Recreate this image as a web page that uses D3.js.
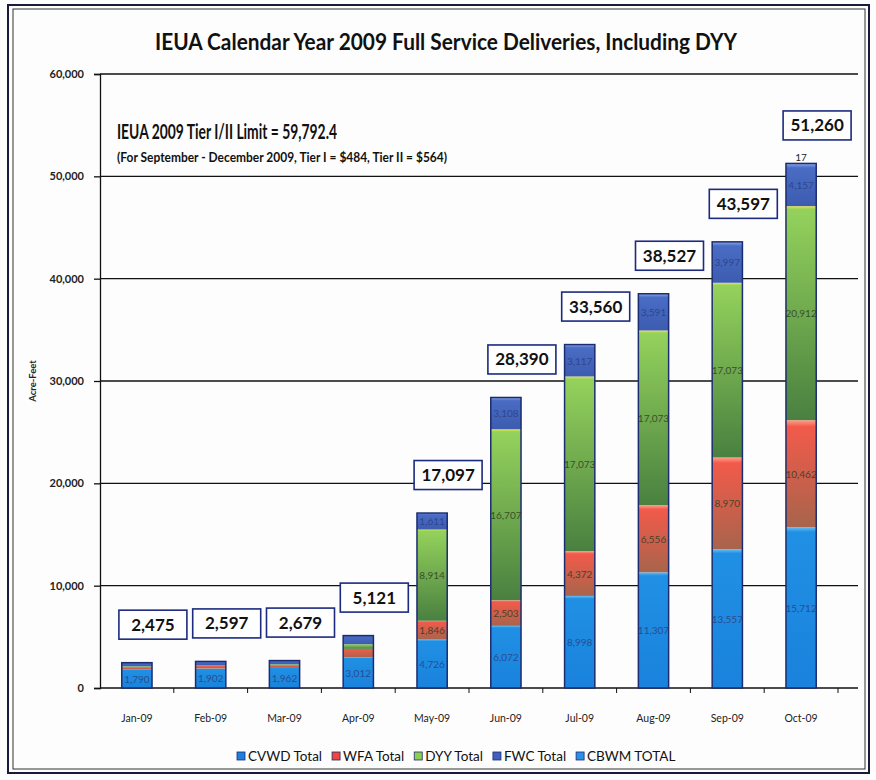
<!DOCTYPE html>
<html>
<head>
<meta charset="utf-8">
<script src="https://cdn.jsdelivr.net/npm/d3@7"></script>
<style>
  html, body { margin: 0; padding: 0; background: #fff; }
  svg { display: block; }
  text { font-family: Lato, "Open Sans", sans-serif; }
</style>
</head>
<body>
<svg id="chart" width="876" height="780"></svg>
<script>
// ---- data ----
const months = ["Jan-09","Feb-09","Mar-09","Apr-09","May-09","Jun-09","Jul-09","Aug-09","Sep-09","Oct-09"];
const cvwd = [1790, 1902, 1962, 3012, 4726, 6072, 8998, 11307, 13557, 15712];
const wfa  = [236, 244, 259, 812, 1846, 2503, 4372, 6556, 8970, 10462];
const dyy  = [95, 95, 95, 453, 8914, 16707, 17073, 17073, 17073, 20912];
const fwc  = [354, 356, 363, 844, 1611, 3108, 3117, 3591, 3997, 4157];
const cbwm = [0, 0, 0, 0, 0, 0, 0, 0, 0, 17];
const totals = [2475, 2597, 2679, 5121, 17097, 28390, 33560, 38527, 43597, 51260];
const seriesNames = ["CVWD Total", "WFA Total", "DYY Total", "FWC Total", "CBWM TOTAL"];
const yTicks = [0, 10000, 20000, 30000, 40000, 50000, 60000];
const titleText = "IEUA Calendar Year 2009 Full Service Deliveries, Including DYY";
const noteLine1 = "IEUA 2009 Tier I/II Limit = 59,792.4";
const noteLine2 = "(For September - December 2009, Tier I = $484, Tier II = $564)";
const yAxisTitle = "Acre-Feet";

// ---- build ----
const svg = d3.select("#chart");
const keys = ["cvwd","wfa","dyy","fwc","cbwm"];
const valuesByKey = {cvwd, wfa, dyy, fwc, cbwm};
const table = months.map((m, i) => {
  const row = {month: m, total: totals[i]};
  keys.forEach(k => row[k] = valuesByKey[k][i]);
  return row;
});
const stacked = d3.stack().keys(keys)(table);

const plot = {left: 100, right: 838, top: 74, bottom: 688, gridRight: 858};
const x = d3.scaleBand().domain(months).range([plot.left, plot.right]).paddingInner(0.59).paddingOuter(0.295);
const y = d3.scaleLinear().domain([0, 60000]).range([plot.bottom, plot.top]);

// gradients
const defs = svg.append("defs");
const gradSpec = {
  cvwd: [["0%", "#6cbcf2"], ["3%", "#2090e4"], ["100%", "#1a82dc"]],
  wfa:  [["0%", "#ffa08a"], ["6%", "#f25a4a"], ["100%", "#a8644c"]],
  dyy:  [["0%", "#e8e448"], ["1.5%", "#94d25c"], ["100%", "#4a8040"]],
  fwc:  [["0%", "#8aa8e8"], ["10%", "#4a6cc4"], ["100%", "#3c5cb0"]],
  cbwm: [["0%", "#9fd0f5"], ["100%", "#3a98e6"]]
};
keys.forEach(k => {
  const g = defs.append("linearGradient").attr("id", "g-" + k)
    .attr("x1", 0).attr("y1", 0).attr("x2", 0).attr("y2", 1);
  gradSpec[k].forEach(([o, c]) => g.append("stop").attr("offset", o).attr("stop-color", c));
});
const legendColor = {cvwd: "#1f7fe0", wfa: "#f0443c", dyy: "#8ccf50", fwc: "#4060c0", cbwm: "#2e8fe8"};

// background & frame
svg.append("rect").attr("x", 0).attr("y", 0).attr("width", 876).attr("height", 780).attr("fill", "#fdfdfd");
svg.append("rect").attr("x", 8).attr("y", 5).attr("width", 861).attr("height", 768)
  .attr("fill", "none").attr("stroke", "#1a1a3a").attr("stroke-width", 2);
svg.append("rect").attr("x", 13).attr("y", 9).attr("width", 852).attr("height", 760)
  .attr("fill", "none").attr("stroke", "#333").attr("stroke-width", 1);

// gridlines
svg.append("g").selectAll("line").data(yTicks.filter(d => d > 0)).join("line")
  .attr("x1", plot.left).attr("x2", plot.gridRight)
  .attr("y1", d => y(d)).attr("y2", d => y(d))
  .attr("stroke", "#111").attr("stroke-width", 1.3);

// y axis
const yAxis = svg.append("g").attr("transform", `translate(${plot.left},0)`)
  .call(d3.axisLeft(y).tickValues(yTicks).tickFormat(d3.format(",")).tickSizeOuter(0).tickSize(6).tickPadding(10));
yAxis.select(".domain").attr("stroke", "#111").attr("stroke-width", 1.3);
yAxis.selectAll(".tick line").attr("stroke", "#111").attr("stroke-width", 1.3);
yAxis.selectAll("text").attr("font-size", 11).attr("font-weight", "bold").attr("fill", "#222");

// x axis
const xAxisG = svg.append("g").attr("transform", `translate(0,${plot.bottom})`);
xAxisG.append("line").attr("x1", plot.left).attr("x2", plot.gridRight).attr("y1", 0).attr("y2", 0)
  .attr("stroke", "#111").attr("stroke-width", 1.5);
const boundaries = months.map(m => x(m) - x.step() * x.paddingInner() / 2).slice(1).concat([plot.right]);
xAxisG.selectAll(".tk").data(boundaries).join("line").attr("class", "tk")
  .attr("x1", d => d).attr("x2", d => d).attr("y1", 0).attr("y2", 5)
  .attr("stroke", "#111").attr("stroke-width", 1);
xAxisG.selectAll(".lbl").data(months).join("text").attr("class", "lbl")
  .attr("x", d => x(d) + x.bandwidth() / 2).attr("y", 34)
  .attr("text-anchor", "middle").attr("font-size", 10.5).attr("fill", "#222")
  .text(d => d);

// bars
const barG = svg.append("g");
stacked.forEach(layer => {
  const k = layer.key;
  barG.append("g").selectAll("rect").data(layer).join("rect")
    .attr("x", d => x(d.data.month))
    .attr("width", x.bandwidth())
    .attr("y", d => y(d[1]))
    .attr("height", d => Math.max(0, y(d[0]) - y(d[1])))
    .attr("fill", `url(#g-${k})`);
});
barG.append("g").selectAll("rect").data(table).join("rect")
  .attr("x", d => x(d.month)).attr("width", x.bandwidth())
  .attr("y", d => y(d.total)).attr("height", d => y(0) - y(d.total))
  .attr("fill", "none").attr("stroke", "#1c2c70").attr("stroke-width", 1.5);

// segment labels
const fmt = d3.format(",");
const segLabels = svg.append("g");
stacked.forEach(layer => {
  segLabels.append("g").selectAll("text").data(layer.filter(d => (y(d[0]) - y(d[1])) > 12)).join("text")
    .attr("x", d => x(d.data.month) + x.bandwidth() / 2)
    .attr("y", d => (y(d[0]) + y(d[1])) / 2 + 4)
    .attr("text-anchor", "middle").attr("font-size", 10)
    .attr("fill", layer.key === "fwc" || layer.key === "cvwd" ? "#2a3f80" : "#2a3a22")
    .attr("opacity", 0.8)
    .text(d => fmt(d[1] - d[0]));
});
const cbLayer = stacked[keys.indexOf("cbwm")];
segLabels.append("g").selectAll("text").data(cbLayer.filter(d => d[1] - d[0] > 0)).join("text")
  .attr("x", d => x(d.data.month) + x.bandwidth() / 2)
  .attr("y", d => y(d[1]) - 2)
  .attr("text-anchor", "middle").attr("font-size", 10).attr("fill", "#222")
  .text(d => fmt(d[1] - d[0]));

// total boxes
const boxW = 68, boxH = 29;
const boxes = svg.append("g").selectAll("g").data(table).join("g")
  .attr("transform", d => `translate(${x(d.month) + x.bandwidth() / 2 + 16},${y(d.total) - 38})`);
boxes.append("rect").attr("x", -boxW / 2).attr("y", -boxH / 2).attr("width", boxW).attr("height", boxH)
  .attr("fill", "#fff").attr("stroke", "#1c2a80").attr("stroke-width", 1.6);
boxes.append("text").attr("text-anchor", "middle").attr("y", 6)
  .attr("font-size", 17).attr("font-weight", "bold").attr("fill", "#111")
  .text(d => fmt(d.total));

// title & notes
svg.append("text").attr("x", 446).attr("y", 50).attr("text-anchor", "middle")
  .attr("font-size", 23).attr("font-weight", "bold").attr("fill", "#111")
  .attr("textLength", 582).attr("lengthAdjust", "spacingAndGlyphs").text(titleText);
svg.append("text").attr("x", 117).attr("y", 139)
  .attr("font-size", 21).attr("font-weight", "bold").attr("fill", "#111")
  .attr("textLength", 220).attr("lengthAdjust", "spacingAndGlyphs").text(noteLine1);
svg.append("text").attr("x", 117).attr("y", 162)
  .attr("font-size", 14).attr("font-weight", "bold").attr("fill", "#111")
  .attr("textLength", 330).attr("lengthAdjust", "spacingAndGlyphs").text(noteLine2);

// y axis title
svg.append("text").attr("transform", "translate(36,381) rotate(-90)")
  .attr("text-anchor", "middle").attr("font-size", 9.5).attr("font-weight", "bold").attr("fill", "#222")
  .text(yAxisTitle);

// legend
const legend = svg.append("g").attr("transform", "translate(0,757)");
let lx = 237;
keys.forEach((k, i) => {
  const item = legend.append("g").attr("transform", `translate(${lx},0)`);
  item.append("rect").attr("x", 0).attr("y", -5).attr("width", 8).attr("height", 8)
    .attr("fill", legendColor[k]).attr("stroke", "#1c2c70").attr("stroke-width", 0.8);
  const t = item.append("text").attr("x", 11).attr("y", 4).attr("font-size", 13.5).attr("fill", "#111")
    .text(seriesNames[i]);
  lx += 11 + t.node().getComputedTextLength() + 10;
});
</script>
</body>
</html>
